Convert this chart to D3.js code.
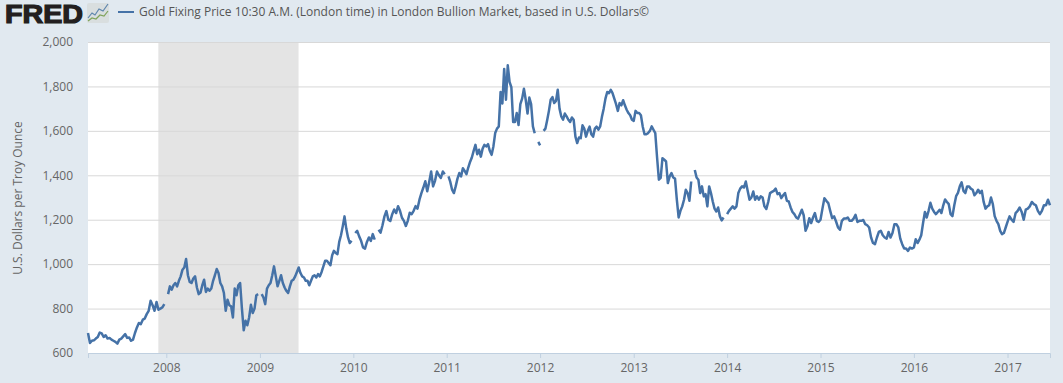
<!DOCTYPE html>
<html>
<head>
<meta charset="utf-8">
<script src="https://cdn.jsdelivr.net/npm/d3@7"></script>
<style>
  html, body { margin: 0; padding: 0; background: #e1e9f0; overflow: hidden; }
  text { font-family: "Open Sans", sans-serif; }
</style>
</head>
<body>
<div id="chart"></div>
<script>
//Gold price, one list per calendar year (null = gap in the series)
const gold2007 = [690,645,655,657,665,672,692,688,672,680,665,668,660,655,650,642,660,665,675,685,668,670,655,660,690,715,735,730,750,755,775,790,835,815,790,830,795,800,805,820];
const gold2008 = [null,865,900,885,905,915,900,925,945,975,985,1023,950,920,915,935,945,895,865,872,905,930,875,890,880,890,925,950,978,960,915,900,870,790,840,815,810,760,890,860,905,915,800,702,745,725,760,817,780,800,860,865];
const gold2009 = [null,865,850,820,890,905,915,950,990,945,900,925,950,915,895,880,870,900,925,930,945,965,985,960,945,940,925,925,905,925,945,950,940,955,945,965,990,1015,1015,1005,995,1040,1060,1050,1045,1100,1130,1170,1215,1160,1120,1095,1105];
const gold2010 = [null,1140,1150,1125,1105,1075,1070,1100,1120,1105,1135,1110,null,1155,1142,1175,1215,1239,1200,1194,1225,1246,1230,1261,1240,1209,1195,1172,1195,1231,1225,1240,1261,1250,1290,1320,1345,1373,1328,1370,1417,1350,1375,1417,1400,1388,1417,1405];
const gold2011 = [null,1395,1370,1335,1320,1350,1385,1410,1395,1432,1420,1405,1435,1460,1480,1510,1537,1495,1515,1484,1520,1537,1530,1540,1510,1492,1530,1590,1610,1620,1775,1723,1879,1740,1895,1820,1797,1640,1640,1680,1626,1720,1745,1790,1740,1678,1750,1720,1620,1589,null,1550];
const gold2012 = [1535,null,1600,1610,1648,1690,1740,1752,1725,1735,1785,1700,1665,1650,1678,1665,1650,1640,1660,1650,1574,1545,1570,1567,1625,1610,1574,1600,1619,1585,1574,1610,1619,1605,1620,1663,1700,1745,1775,1770,1785,1770,1745,1720,1690,1725,1715,1738,1715,1695,1680,1670,1650];
const gold2013 = [1645,1690,1680,1680,1670,1620,1585,1585,1590,1600,1620,1605,1590,1480,1380,1388,1477,1470,1462,1365,1395,1410,1390,1385,1290,1210,1240,1260,1290,1335,1320,1285,1372,null,1424,1390,1380,1320,1350,1305,1315,1260,1350,1320,1282,1250,1237,1255,1215,1197,1210,null];
const gold2014 = [1225,1240,1250,1260,1250,1260,1320,1340,1350,1345,1372,1330,1290,1300,1327,1290,1305,1290,1305,1300,1260,1248,1280,1320,1325,1330,1340,1315,1320,1297,1310,1320,1285,1282,1255,1235,1225,1210,1205,1225,1245,1220,1150,1170,1207,1185,1210,1230,1195,1190];
const gold2015 = [1200,1250,1297,1285,1275,1240,1207,1215,1192,1165,1155,1195,1205,1205,1210,1195,1195,1205,1222,1190,1195,1195,1199,1180,1175,1165,1120,1095,1090,1120,1145,1150,1130,1120,1115,1145,1120,1140,1180,1180,1165,1115,1090,1070,1070,1060,1075,1070];
const gold2016 = [1075,1112,1095,1110,1130,1185,1235,1210,1240,1276,1250,1235,1225,1235,1245,1230,1265,1291,1280,1270,1225,1216,1265,1306,1321,1350,1368,1330,1320,1350,1350,1340,1335,1310,1320,1335,1320,1330,1280,1250,1260,1265,1300,1270,1216,1195,1180,1150,1135,1140,1165];
const gold2017 = [1190,1215,1200,1190,1230,1240,1255,1235,1200,1245,1250,1260,1280,1270,1265,1240,1225,1240,1265,1265,1290,1265];

const yearLists = [gold2007,gold2008,gold2009,gold2010,gold2011,gold2012,gold2013,gold2014,gold2015,gold2016,gold2017];
const yearNames = [2007,2008,2009,2010,2011,2012,2013,2014,2015,2016,2017];
const startDate = new Date(2007, 2, 1);
const endDate = new Date(2017, 5, 16);
const recessionStart = new Date(2007, 11, 1);
const recessionEnd = new Date(2009, 5, 1);
const priceTicks = [600,800,1000,1200,1400,1600,1800,2000];
const legendText = "Gold Fixing Price 10:30 A.M. (London time) in London Bullion Market, based in U.S. Dollars©";
const yAxisTitle = "U.S. Dollars per Troy Ounce";

//Set the dimensions of the graph
const width = 1063, height = 383;
const margin = {top: 42, right: 13, bottom: 30, left: 88};

const svg = d3.select("#chart")
    .append("svg")
    .attr("width", width)
    .attr("height", height)
    .style("display", "block");

svg.append("rect")
    .attr("width", width)
    .attr("height", height)
    .attr("fill", "#e1e9f0");

//Scales
const x = d3.scaleTime()
    .domain([startDate, endDate])
    .range([margin.left, width - margin.right]);
const y = d3.scaleLinear()
    .domain([600, 2000])
    .range([height - margin.bottom, margin.top]);

//Spread each year's readings evenly over the part of that year on the chart
const points = [];
yearLists.forEach(function(list, k) {
    const from = Math.max(new Date(yearNames[k], 0, 1), startDate);
    const to = Math.min(new Date(yearNames[k] + 1, 0, 1), endDate);
    list.forEach(function(v, i) {
        points.push({date: new Date(+from + (to - from) * i / (k === yearLists.length - 1 ? list.length - 1 : list.length)), value: v});
    });
});

//Plot background
svg.append("rect")
    .attr("x", margin.left)
    .attr("y", margin.top)
    .attr("width", width - margin.left - margin.right)
    .attr("height", height - margin.top - margin.bottom)
    .attr("fill", "#ffffff");

//Recession band
svg.append("rect")
    .attr("x", x(recessionStart))
    .attr("y", margin.top)
    .attr("width", x(recessionEnd) - x(recessionStart))
    .attr("height", height - margin.top - margin.bottom)
    .attr("fill", "#e4e4e4");

//Y axis with gridlines
const yAxis = svg.append("g")
    .attr("transform", `translate(${margin.left}, 0)`)
    .call(d3.axisLeft(y)
        .tickValues(priceTicks)
        .tickFormat(d3.format(","))
        .tickSize(-(width - margin.left - margin.right))
        .tickPadding(15));
yAxis.select(".domain").remove();
yAxis.selectAll("line").attr("stroke", "#d8d8d8");
yAxis.selectAll("text")
    .attr("fill", "#666666")
    .style("font-size", "12px");

//X axis
const xAxis = svg.append("g")
    .attr("transform", `translate(0, ${height - margin.bottom})`)
    .call(d3.axisBottom(x)
        .ticks(d3.timeYear.every(1))
        .tickFormat(d3.timeFormat("%Y"))
        .tickSize(5)
        .tickPadding(5));
xAxis.select(".domain").attr("stroke", "#c0d0e0");
xAxis.selectAll("line").attr("stroke", "#c0d0e0");
xAxis.selectAll("text")
    .attr("fill", "#666666")
    .style("font-size", "12px");

//Price line
const line = d3.line()
    .defined(function(d) { return d.value !== null; })
    .x(function(d) { return x(d.date); })
    .y(function(d) { return y(d.value); });

svg.append("path")
    .datum(points)
    .attr("fill", "none")
    .attr("stroke", "#4572a7")
    .attr("stroke-width", 2.5)
    .attr("stroke-linejoin", "round")
    .attr("d", line);

//Y axis title
svg.append("text")
    .attr("transform", "translate(22, 198) rotate(-90)")
    .attr("text-anchor", "middle")
    .attr("fill", "#666666")
    .style("font-size", "12px")
    .text(yAxisTitle);

//Legend
svg.append("line")
    .attr("x1", 118)
    .attr("x2", 134)
    .attr("y1", 12)
    .attr("y2", 12)
    .attr("stroke", "#4572a7")
    .attr("stroke-width", 2);

svg.append("text")
    .attr("x", 139)
    .attr("y", 16)
    .attr("fill", "#555555")
    .style("font-size", "12px")
    .text(legendText);

//FRED logo
svg.append("text")
    .attr("x", 5)
    .attr("y", 23)
    .attr("textLength", 78)
    .attr("lengthAdjust", "spacingAndGlyphs")
    .attr("fill", "#231f20")
    .attr("stroke", "#231f20")
    .attr("stroke-width", 1.2)
    .style("font-family", "'Liberation Sans', sans-serif")
    .style("font-weight", "700")
    .style("font-size", "25px")
    .text("FRED");

svg.append("rect")
    .attr("x", 87)
    .attr("y", 3)
    .attr("width", 22)
    .attr("height", 20)
    .attr("rx", 2)
    .attr("fill", "#d9dedf");
svg.append("path")
    .attr("d", "M88,18L92,13L95,15L99,9L103,11L108,4")
    .attr("fill", "none")
    .attr("stroke", "#5f86ad")
    .attr("stroke-width", 1.2);
svg.append("path")
    .attr("d", "M88,21L92,18L96,19L100,15L104,16L108,11")
    .attr("fill", "none")
    .attr("stroke", "#7fa35a")
    .attr("stroke-width", 1.2);
</script>
</body>
</html>
